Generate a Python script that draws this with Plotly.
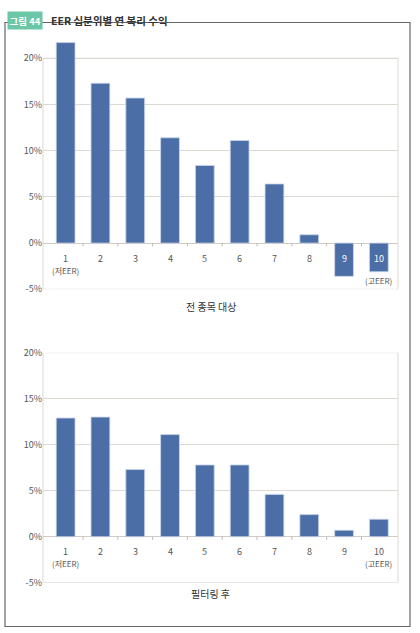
import plotly.graph_objects as go
from plotly.subplots import make_subplots

# EER decile annual compound returns (%)
deciles = [1, 2, 3, 4, 5, 6, 7, 8, 9, 10]
tick_labels = ["1", "2", "3", "4", "5", "6", "7", "8", "9", "10"]
sub_labels = {1: "(저EER)", 10: "(고EER)"}
all_stocks = [21.7, 17.3, 15.7, 11.4, 8.4, 11.1, 6.4, 0.9, -3.6, -3.1]
filtered = [12.9, 13.0, 7.3, 11.1, 7.8, 7.8, 4.6, 2.4, 0.7, 1.9]
y_ticks = [-5, 0, 5, 10, 15, 20]
y_tick_text = ["-5%", "0%", "5%", "10%", "15%", "20%"]

W, H = 420, 633
L, R = 43, 22
BAR = "#4C6EA6"
GRID = "#dcd9d2"
TXT = "#555555"
FONT = "Noto Sans CJK KR"


def px_x(p):
    return (p - L) / (W - L - R)


def px_y(p):
    return 1 - p / H


fig = make_subplots(rows=2, cols=1)

for row, vals in [(1, all_stocks), (2, filtered)]:
    fig.add_trace(
        go.Bar(
            x=deciles,
            y=vals,
            width=0.54,
            marker=dict(color=BAR, line=dict(color="#c9d6ea", width=0.8)),
            showlegend=False,
        ),
        row=row,
        col=1,
    )

    xref = "x" if row == 1 else "x2"
    yref = "y" if row == 1 else "y2"
    for d, lab, v in zip(deciles, tick_labels, vals):
        inside = v < -2
        fig.add_annotation(
            x=d, y=0, xref=xref, yref=yref, text=lab, showarrow=False,
            yshift=-15, font=dict(size=9, color="white" if inside else TXT),
        )
        if d in sub_labels:
            fig.add_annotation(
                x=d, y=min(0, v), xref=xref, yref=yref, text=sub_labels[d],
                showarrow=False, yshift=-27 if v >= 0 else -9,
                font=dict(size=8, color=TXT),
            )
    # small tick marks on the zero line between categories
    for d in deciles[:-1]:
        fig.add_shape(
            type="line", xref=xref, yref=yref, x0=d + 0.5, x1=d + 0.5,
            y0=0, y1=-0.35, line=dict(color="#bbbbbb", width=1),
        )
    # plot box, -5% .. 20%
    fig.add_shape(
        type="rect", xref=xref + " domain", yref=yref, x0=0, x1=1,
        y0=min(y_ticks), y1=max(y_ticks), line=dict(color=GRID, width=1),
        layer="below",
    )

for ax in ["xaxis", "xaxis2"]:
    fig.layout[ax].update(
        range=[0.35, 10.55], showticklabels=False, showgrid=False,
        zeroline=False, showline=False, ticks="",
    )
for ax in ["yaxis", "yaxis2"]:
    fig.layout[ax].update(
        tickmode="array", tickvals=y_ticks, ticktext=y_tick_text,
        showgrid=True, gridcolor=GRID, gridwidth=1,
        zeroline=True, zerolinecolor="#cfcbc2", zerolinewidth=1,
        showline=False, tickfont=dict(size=9, color=TXT), ticks="",
    )

# top panel leaves headroom above 20% for the first bar
fig.layout.yaxis.range = [-5, 22]
fig.layout.yaxis.domain = [px_y(289.3), px_y(39.8)]
fig.layout.yaxis2.range = [-5, 20]
fig.layout.yaxis2.domain = [px_y(582.7), px_y(352.7)]

# subtitles
fig.add_annotation(
    x=px_x(210.5), y=px_y(306), xref="paper", yref="paper", text="전 종목 대상",
    showarrow=False, font=dict(size=10, color="#333333"),
)
fig.add_annotation(
    x=px_x(210.5), y=px_y(602.5), xref="paper", yref="paper", text="필터링 후",
    showarrow=False, font=dict(size=10, color="#333333"),
)

# header
fig.add_annotation(
    x=px_x(6.5), y=px_y(10.5), xref="paper", yref="paper", xanchor="left",
    text="<b>그림 44</b>", showarrow=False, bgcolor="#6cc7a6", borderpad=1.5,
    font=dict(size=9.5, color="white"),
)
fig.add_annotation(
    x=px_x(49), y=px_y(10.5), xref="paper", yref="paper", xanchor="left",
    text="<b>EER 십분위별 연 복리 수익</b>", showarrow=False,
    font=dict(size=10.5, color="#333333"),
)

# outer frame
fig.add_shape(
    type="rect", xref="paper", yref="paper",
    x0=px_x(5), x1=px_x(410), y0=px_y(626.5), y1=px_y(22.5),
    line=dict(color="#666666", width=1.2), layer="below",
)

fig.update_layout(
    width=W, height=H,
    margin=dict(l=L, r=R, t=0, b=0, autoexpand=False),
    paper_bgcolor="white", plot_bgcolor="white",
    font=dict(family=FONT, color=TXT),
    bargap=0.46,
)

fig.write_html(
    "out.html",
    config={"displayModeBar": False},
    post_script="document.body.style.margin = '0';",
)
